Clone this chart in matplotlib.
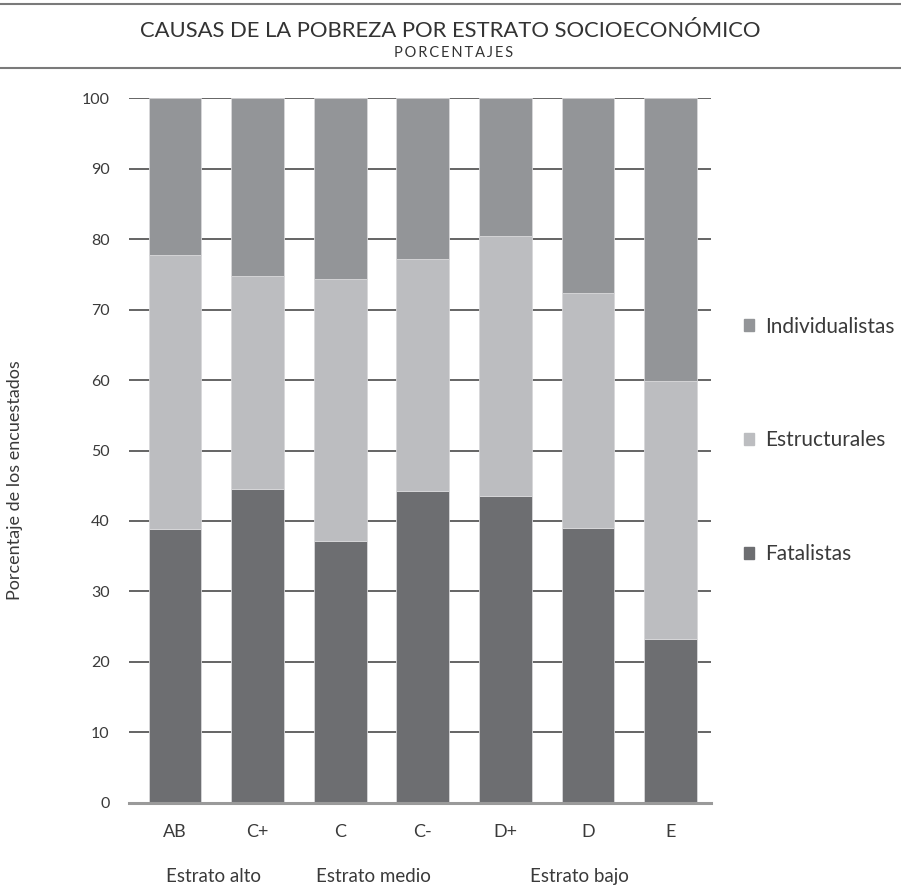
import numpy as np
import matplotlib.pyplot as plt
from matplotlib.patches import Patch

plt.rcParams['font.family'] = ['Lato', 'DejaVu Sans']

# datos por estrato (porcentajes)
estratos = ["AB", "C+", "C", "C-", "D+", "D", "E"]
fatalistas = [38.8, 44.6, 37.2, 44.2, 43.6, 39.0, 23.2]
estructurales = [39.0, 30.2, 37.2, 33.0, 36.8, 33.3, 36.7]
individualistas = [22.2, 25.2, 25.6, 22.8, 19.6, 27.7, 40.1]

grupos = ["Estrato alto", "Estrato medio", "Estrato bajo"]
grupos_x = [0.46, 2.40, 4.90]

c_fat = "#6d6e71"
c_est = "#bcbdc0"
c_ind = "#939598"
txt = "#3a3a3a"

fig = plt.figure(figsize=(9.01, 8.86), dpi=100)
ax = fig.add_axes([0.1432, 0.094, 0.646, 0.795])

x = np.arange(len(estratos))
fat = np.array(fatalistas)
est = np.array(estructurales)
ind = np.array(individualistas)

w = 0.64
ax.bar(x, fat, w, color=c_fat, edgecolor="#d8d8da", linewidth=0.6, zorder=3)
ax.bar(x, est, w, bottom=fat, color=c_est, edgecolor="#d8d8da", linewidth=0.6, zorder=3)
ax.bar(x, ind, w, bottom=fat + est, color=c_ind, edgecolor="#d8d8da", linewidth=0.6, zorder=3)

ax.set_xlim(-0.557, 6.49)
ax.set_ylim(0, 100)
ax.set_yticks(range(0, 101, 10))
ax.set_xticks(x)
ax.set_xticklabels(estratos, fontsize=13)
ax.tick_params(length=0, colors=txt)
ax.tick_params(axis="y", pad=14, labelsize=11.5)
ax.tick_params(axis="x", pad=15)

# lineas horizontales detras de las barras
for v in range(10, 101, 10):
    ax.axhline(v, color="#3a3a3a", lw=1.1, zorder=1)
ax.axhline(0, color="#9a9a9a", lw=2.2, zorder=4, clip_on=False)

for s in ax.spines.values():
    s.set_visible(False)

fig.text(0.0166, 0.458, "Porcentaje de los encuestados", rotation=90,
         ha="center", va="center", fontsize=13, color=txt)

for gx, g in zip(grupos_x, grupos):
    ax.text(gx, -10.5, g, ha="center", va="center", fontsize=13.5, color=txt)

# titulo y filetes
fig.text(0.5, 0.965, "CAUSAS DE LA POBREZA POR ESTRATO SOCIOECONÓMICO",
         ha="center", va="center", fontsize=15.8, color="#333333")
fig.text(0.503, 0.940, "\u2009".join("PORCENTAJES"), ha="center", va="center",
         fontsize=10.5, color="#333333")
fig.add_artist(plt.Line2D([0, 1], [0.995, 0.995], color="#7a7a7a", lw=1.5))
fig.add_artist(plt.Line2D([0, 1], [0.923, 0.923], color="#7a7a7a", lw=1.5))

handles = [Patch(color=c_ind, label="Individualistas"),
           Patch(color=c_est, label="Estructurales"),
           Patch(color=c_fat, label="Fatalistas")]
fig.legend(handles=handles, loc="center left", bbox_to_anchor=(0.805, 0.503),
           frameon=False, fontsize=15.0, labelspacing=4.5, handlelength=0.5,
           handleheight=0.5, handletextpad=0.5, labelcolor=txt)

fig.savefig("out.png", dpi=100)
